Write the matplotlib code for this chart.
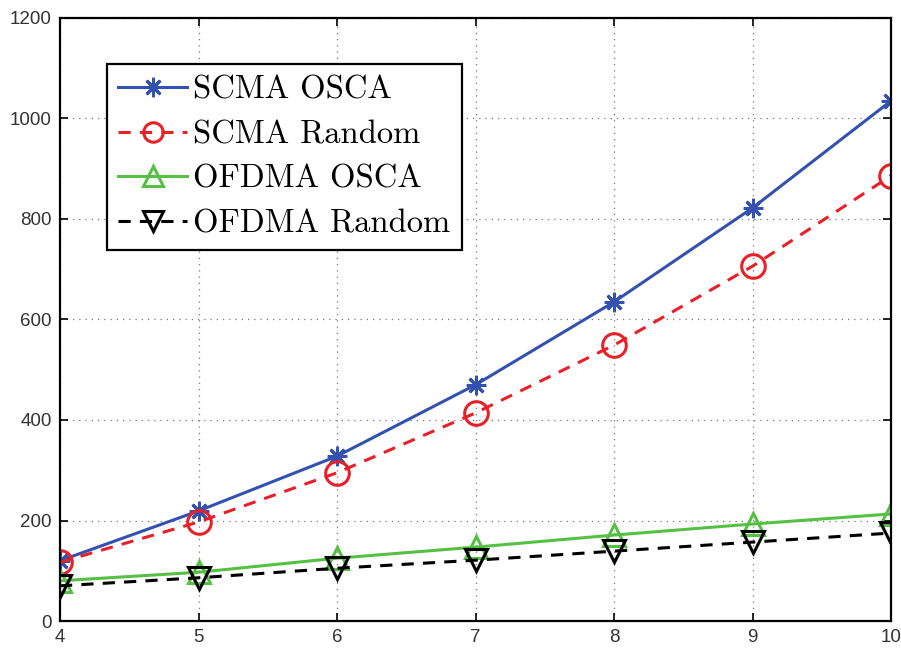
import matplotlib.pyplot as plt
import numpy as np

x = [4, 5, 6, 7, 8, 9, 10]
scma_osca = [120, 219, 328, 470, 635, 822, 1035]
scma_random = [117, 197, 295, 414, 549, 706, 886]
ofdma_osca = [80, 97, 125, 147, 171, 193, 213]
ofdma_random = [70, 86, 105, 121, 139, 157, 175]

fig = plt.figure(figsize=(9.01, 6.48), dpi=100)
ax = fig.add_axes([60 / 901, 1 - 621 / 648, 831 / 901, 603 / 648])

ax.plot(x, scma_osca, color="#3352b0", lw=2.2, marker=(8, 2, 0), ms=14, mew=2.0,
        label="SCMA OSCA")
ax.plot(x, scma_random, color="#e82028", lw=2.2, ls=(0, (4, 3)), marker="o", ms=17,
        mfc="none", mew=2.2, label="SCMA Random")
ax.plot(x, ofdma_osca, color="#55c043", lw=2.2, marker="^", ms=16, mfc="none", mew=2.2,
        label="OFDMA OSCA")
ax.plot(x, ofdma_random, color="black", lw=2.2, ls=(0, (4, 3)), marker="v", ms=16,
        mfc="none", mew=2.2, label="OFDMA Random")

ax.set_xlim(4, 10)
ax.set_ylim(0, 1200)
ax.set_xticks(range(4, 11))
ax.set_yticks(range(0, 1201, 200))
ax.grid(True, ls=(0, (1, 4)), color="#777777", lw=0.9)
ax.tick_params(direction="in", top=True, right=True, length=6, width=1.2,
               labelsize=13.5, labelcolor="#333333", pad=6)
for lab in ax.get_xticklabels() + ax.get_yticklabels():
    lab.set_family("Liberation Sans")
for s in ax.spines.values():
    s.set_linewidth(1.6)
    s.set_clip_on(False)

leg = ax.legend(loc="upper left", bbox_to_anchor=(47 / 831, 1 - 46 / 603),
                prop={"family": "cmr10", "size": 23.5}, fancybox=False,
                edgecolor="black", framealpha=1, borderpad=0.35,
                labelspacing=0.48, handlelength=2.1, handletextpad=0.2,
                borderaxespad=0)
leg.get_frame().set_linewidth(1.6)
for h in leg.legend_handles:
    h.set_markersize(14)

fig.savefig("out.png", dpi=100)
